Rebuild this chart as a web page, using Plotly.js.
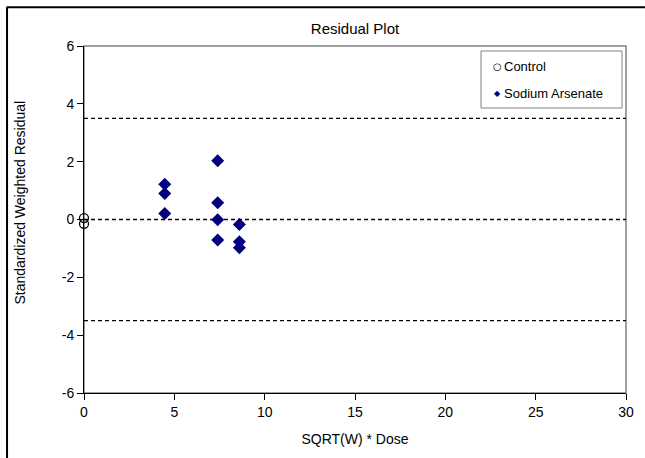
<!DOCTYPE html>
<html>
<head>
<meta charset="utf-8">
<script src="https://cdn.plot.ly/plotly-3.0.1.min.js"></script>
<style>
  html, body { margin: 0; padding: 0; background: #fff; overflow: hidden; }
  #chart { width: 645px; height: 458px; }
</style>
</head>
<body>
<div id="chart"></div>
<script>
// Residuals for the control group (dose 0)
const controlX = [0, 0];
const controlY = [0.05, -0.15];

// Residuals for the sodium arsenate dose groups
const arsenateX = [4.47, 4.47, 4.47, 7.4, 7.4, 7.4, 7.4, 8.6, 8.6, 8.6];
const arsenateY = [1.22, 0.9, 0.21, 2.03, 0.58, -0.01, -0.71, -0.17, -0.77, -0.98];

// Reference levels: zero line and +/- bounds
const refLevels = [-3.5, 0, 3.5];

const seriesNames = ['Control', 'Sodium Arsenate'];
const xTicks = [0, 5, 10, 15, 20, 25, 30];
const yTicks = [-6, -4, -2, 0, 2, 4, 6];

const font = 'Liberation Sans, Arial, sans-serif';
const navy = '#000080';

const traces = [
  {
    x: controlX, y: controlY, name: seriesNames[0],
    type: 'scatter', mode: 'markers', showlegend: false,
    marker: { symbol: 'circle-open', size: 9, color: '#000', line: { width: 1.3, color: '#000' } },
    cliponaxis: false
  },
  {
    x: arsenateX, y: arsenateY, name: seriesNames[1],
    type: 'scatter', mode: 'markers', showlegend: false,
    marker: { symbol: 'diamond', size: 10, color: navy },
    cliponaxis: false
  }
];

const shapes = refLevels.map(v => ({
  type: 'line', xref: 'paper', yref: 'y',
  x0: 0, x1: 1, y0: v, y1: v,
  line: { color: '#000', width: 1.3, dash: '4px,3px' }
}));

// plot-area frame
shapes.push({
  type: 'rect', xref: 'paper', yref: 'paper', x0: 0, x1: 1, y0: 0, y1: 1,
  line: { color: '#808080', width: 1.5 }, layer: 'below'
});
// outer chart frame (left and top edges)
shapes.push({
  type: 'line', xref: 'paper', yref: 'paper',
  x0: -0.142, x1: -0.142, y0: 1.112, y1: -0.19,
  line: { color: '#000', width: 2 }
});
shapes.push({
  type: 'line', xref: 'paper', yref: 'paper',
  x0: -0.143, x1: 1.035, y0: 1.112, y1: 1.112,
  line: { color: '#000', width: 2 }
});
// legend box
shapes.push({
  type: 'rect', xref: 'paper', yref: 'paper',
  x0: 0.7325, x1: 0.9926, y0: 0.8213, y1: 0.9856,
  fillcolor: '#fff', line: { color: '#808080', width: 1 }
});

// legend entries: key glyph + series name
const legendKeys = [
  { glyph: '○', color: '#000', size: 10 },
  { glyph: '◆', color: navy, size: 8 }
];
const legendRows = [0.9395, 0.8617];
const annotations = [];
seriesNames.forEach((name, i) => {
  annotations.push({
    xref: 'paper', yref: 'paper', x: 0.762, y: legendRows[i],
    xanchor: 'center', yanchor: 'middle', showarrow: false,
    text: legendKeys[i].glyph,
    font: { family: 'DejaVu Sans', size: legendKeys[i].size, color: legendKeys[i].color }
  });
  annotations.push({
    xref: 'paper', yref: 'paper', x: 0.771, y: legendRows[i],
    xanchor: 'left', yanchor: 'middle', showarrow: false,
    text: name, font: { family: font, size: 13, color: '#000' }
  });
});
// y-axis title
annotations.push({
  xref: 'paper', yref: 'paper', x: -0.118, y: 0.549,
  xanchor: 'center', yanchor: 'middle', showarrow: false, textangle: -90,
  text: 'Standardized Weighted Residual', font: { family: font, size: 14, color: '#000' }
});

const layout = {
  width: 645, height: 458,
  margin: { l: 84, r: 19, t: 46, b: 65 },
  paper_bgcolor: '#fff', plot_bgcolor: '#fff',
  font: { family: font, size: 12, color: '#000' },
  title: { text: 'Residual Plot', font: { family: font, size: 15, color: '#000' },
           x: 0.5, xanchor: 'center', y: 0.937, yanchor: 'middle', xref: 'paper' },
  showlegend: false,
  xaxis: {
    range: [0, 30], tickvals: xTicks, ticktext: xTicks.map(String),
    ticks: 'outside', ticklen: 6, tickcolor: '#000',
    showgrid: false, zeroline: false, showline: true, linecolor: '#000', linewidth: 1,
    tickfont: { family: font, size: 14 },
    title: { text: 'SQRT(W) * Dose', font: { family: font, size: 14 }, standoff: 15 }
  },
  yaxis: {
    range: [-6, 6], tickvals: yTicks, ticktext: yTicks.map(String),
    ticks: 'outside', ticklen: 6, tickcolor: '#000',
    showgrid: false, zeroline: false, showline: true, linecolor: '#000', linewidth: 1,
    tickfont: { family: font, size: 14 }
  },
  shapes: shapes,
  annotations: annotations
};

Plotly.newPlot('chart', traces, layout, { displayModeBar: false, staticPlot: true });
</script>
</body>
</html>
